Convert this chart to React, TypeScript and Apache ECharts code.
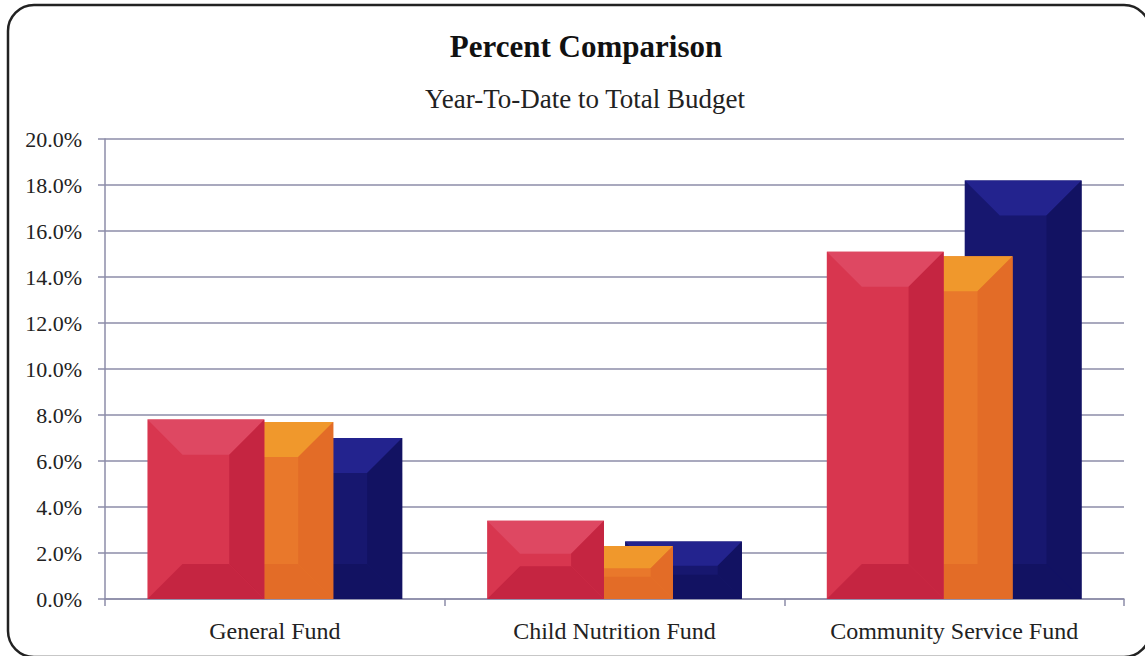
import React, { useEffect, useRef } from "react";
import * as echarts from "echarts";

const categories = ["General Fund", "Child Nutrition Fund", "Community Service Fund"];
const seriesNames = ["Year-To-Date A", "Year-To-Date B", "Year-To-Date C"];
const redValues = [7.8, 3.4, 15.1];
const orangeValues = [7.7, 2.3, 14.9];
const navyValues = [7.0, 2.5, 18.2];
const yTicks = [0, 2, 4, 6, 8, 10, 12, 14, 16, 18, 20];

const palettes = [
  { face: "#d8364f", top: "#de4862", dark: "#c52541" },
  { face: "#e9782b", top: "#f0982c", dark: "#e36c27" },
  { face: "#17176f", top: "#23238e", dark: "#121262" },
];

const SERIF = "'Liberation Serif', 'Times New Roman', serif";

function makeSeries(name: string, values: number[], idx: number) {
  const pal = palettes[idx];
  const offset = (idx - 1) * 0.203;
  return {
    type: "custom",
    name,
    z: 10 - idx,
    data: values.map((v, i) => [i, v]),
    encode: { x: 0, y: 1 },
    renderItem: (params: any, api: any) => {
      const ci = api.value(0);
      const val = api.value(1);
      const topPt = api.coord([ci, val]);
      const basePt = api.coord([ci, 0]);
      const band = api.size([1, 0])[0];
      const w = band * 0.344;
      const cx = topPt[0] + offset * band;
      const x0 = cx - w / 2;
      const x1 = cx + w / 2;
      const y0 = topPt[1];
      const y1 = basePt[1];
      const h = y1 - y0;
      const d = Math.min(37, h * 0.42, w * 0.3);
      return {
        type: "group",
        children: [
          { type: "rect", shape: { x: x0, y: y0, width: w, height: h }, style: { fill: pal.face } },
          {
            type: "polygon",
            shape: { points: [[x0, y0], [x1, y0], [x1 - d, y0 + d], [x0 + d, y0 + d]] },
            style: { fill: pal.top },
          },
          {
            type: "polygon",
            shape: { points: [[x1, y0], [x1, y1], [x1 - d, y1 - d], [x1 - d, y0 + d]] },
            style: { fill: pal.dark },
          },
          {
            type: "polygon",
            shape: { points: [[x0, y1], [x1, y1], [x1 - d, y1 - d], [x0 + d, y1 - d]] },
            style: { fill: pal.dark },
          },
        ],
      };
    },
  };
}

export default function App() {
  const ref = useRef<HTMLDivElement>(null);
  useEffect(() => {
    document.body.style.margin = "0";
    const chart = echarts.init(ref.current!, null, { renderer: "svg" });
    chart.setOption({
      animation: false,
      backgroundColor: "#ffffff",
      grid: { left: 105, right: 21, top: 139, bottom: 57 },
      graphic: [
        {
          type: "rect",
          shape: { x: 8, y: 5, width: 1142, height: 652, r: 26 },
          style: { fill: "none", stroke: "#222222", lineWidth: 2.5 },
          z: 100,
        },
        {
          type: "text",
          x: 586,
          y: 46,
          style: {
            text: "Percent Comparison",
            font: `bold 31px ${SERIF}`,
            fill: "#111111",
            align: "center",
            verticalAlign: "middle",
          },
        },
        {
          type: "text",
          x: 585,
          y: 99,
          style: {
            text: "Year-To-Date to Total Budget",
            font: `27px ${SERIF}`,
            fill: "#222222",
            align: "center",
            verticalAlign: "middle",
          },
        },
      ],
      xAxis: {
        type: "category",
        data: categories,
        boundaryGap: true,
        axisLine: { show: true, lineStyle: { color: "#8c8ca8", width: 1.5 } },
        axisTick: { show: true, length: 7, alignWithLabel: false, lineStyle: { color: "#8c8ca8", width: 1.5 } },
        axisLabel: { margin: 20, fontFamily: SERIF, fontSize: 24, color: "#222222" },
      },
      yAxis: {
        type: "value",
        min: yTicks[0],
        max: yTicks[yTicks.length - 1],
        interval: 2,
        axisLine: { show: true, lineStyle: { color: "#8c8ca8", width: 1.5 } },
        axisTick: { show: true, length: 7, lineStyle: { color: "#8c8ca8", width: 1.5 } },
        splitLine: { show: true, lineStyle: { color: "#8c8ca8", width: 1.5 } },
        axisLabel: {
          margin: 23,
          fontFamily: SERIF,
          fontSize: 22,
          color: "#222222",
          formatter: (v: number) => v.toFixed(1) + "%",
        },
      },
      series: [
        makeSeries(seriesNames[0], redValues, 0),
        makeSeries(seriesNames[1], orangeValues, 1),
        makeSeries(seriesNames[2], navyValues, 2),
      ],
    });
    return () => chart.dispose();
  }, []);
  return <div ref={ref} style={{ position: "absolute", left: 0, top: 0, width: 1145, height: 656 }} />;
}
